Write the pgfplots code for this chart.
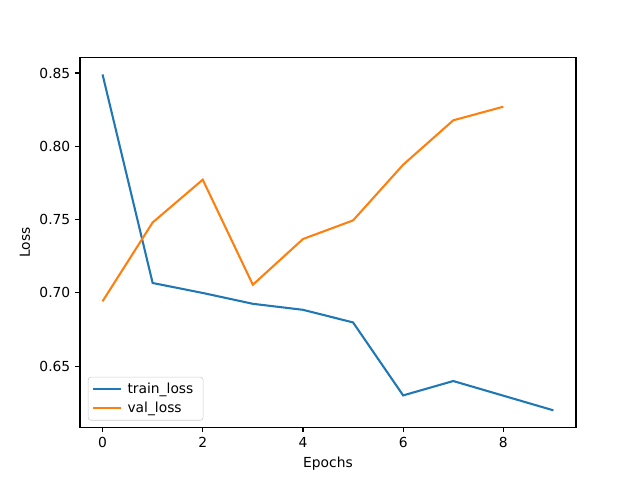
\documentclass[border=0pt]{standalone}
\usepackage{pgfplots}
\pgfplotsset{compat=1.18}
\usepackage{fontspec}
\setmainfont{DejaVu Sans}
\definecolor{c0}{HTML}{1F77B4}
\definecolor{c1}{HTML}{FF7F0E}
\begin{document}
\begin{tikzpicture}
\path[use as bounding box] (-0.8in,-0.528in) rectangle (5.6in,4.272in);
\begin{axis}[
  at={(0,0)}, anchor=south west,
  scale only axis, width=4.96in, height=3.696in,
  xmin=-0.45, xmax=9.45, ymin=0.6083, ymax=0.8605,
  xtick={0,2,4,6,8}, ytick={0.65,0.70,0.75,0.80,0.85},
  yticklabel style={/pgf/number format/.cd, fixed, fixed zerofill, precision=2},
  /pgf/number format/assume math mode=true,
  tick align=outside, tick pos=left, major tick length=3.5pt,
  tick style={black, line width=0.8pt},
  axis line style={line width=0.8pt},
  ticklabel style={font=\fontsize{10}{12}\selectfont},
  xlabel={Epochs}, ylabel={Loss},
  label style={font=\fontsize{10}{12}\selectfont},
  legend style={font=\fontsize{10}{12}\selectfont, draw=black!20, rounded corners=2pt, inner xsep=3pt, inner ysep=2pt, at={(0.016,0.018)}, anchor=south west, row sep=1pt,
    nodes={inner xsep=4pt}},
  legend cell align=left,
  legend image code/.code={\draw[#1] (0cm,0cm) -- (0.7cm,0cm);},
]
\addplot[c0, line width=1.5pt] coordinates {
(0,0.849) (1,0.7067) (2,0.6999) (3,0.6925) (4,0.6884) (5,0.6798) (6,0.630) (7,0.6398) (8,0.6298) (9,0.6198)};
\addlegendentry{train\_loss}
\addplot[c1, line width=1.5pt] coordinates {
(0,0.6942) (1,0.748) (2,0.7772) (3,0.7055) (4,0.7367) (5,0.7494) (6,0.7874) (7,0.8177) (8,0.827)};
\addlegendentry{val\_loss}
\end{axis}
\end{tikzpicture}
\end{document}
